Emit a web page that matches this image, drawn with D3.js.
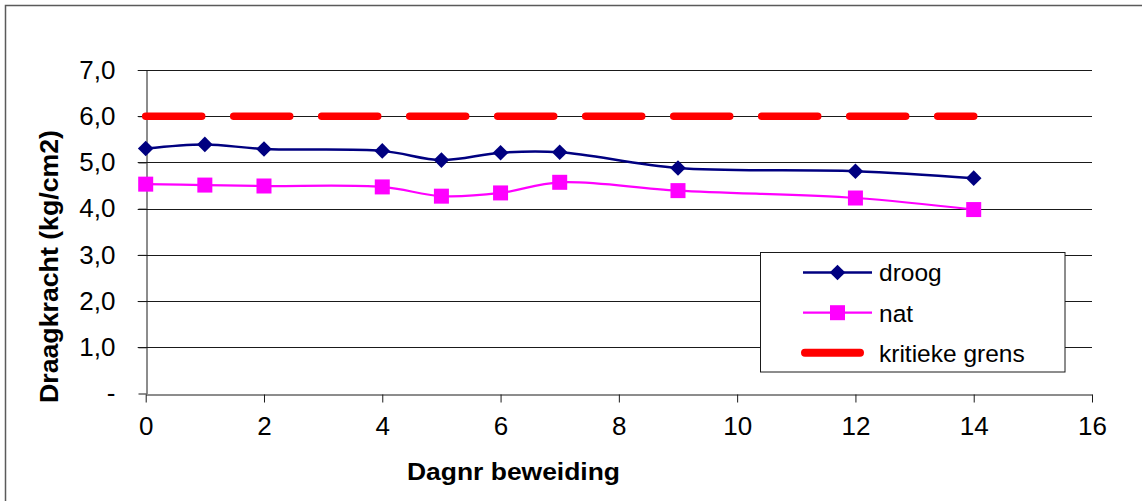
<!DOCTYPE html>
<html>
<head>
<meta charset="utf-8">
<script src="https://cdn.jsdelivr.net/npm/d3@7/dist/d3.min.js"></script>
<style>
  html, body { margin: 0; padding: 0; background: #fff; }
  svg { display: block; font-family: "Liberation Sans", Arial, sans-serif; }
</style>
</head>
<body>
<svg id="chart" width="1142" height="501"></svg>
<script>
// Draagkracht per dag van beweiding
const days = [0, 1, 2, 4, 5, 6, 7, 9, 12, 14];
const droog = [5.30, 5.39, 5.29, 5.25, 5.05, 5.21, 5.22, 4.88, 4.81, 4.66];
const nat = [4.53, 4.51, 4.49, 4.47, 4.27, 4.34, 4.57, 4.39, 4.23, 3.98];
const grens = [6.0, 6.0, 6.0, 6.0, 6.0, 6.0, 6.0, 6.0, 6.0, 6.0];
const seriesNames = ["droog", "nat", "kritieke grens"];
const yTicks = [0, 1, 2, 3, 4, 5, 6, 7];
const yTickLabels = ["-", "1,0", "2,0", "3,0", "4,0", "5,0", "6,0", "7,0"];
const xTicks = [0, 2, 4, 6, 8, 10, 12, 14, 16];
const xTitle = "Dagnr beweiding";
const yTitle = "Draagkracht (kg/cm2)";

const svg = d3.select("#chart");

const x = d3.scaleLinear().domain([0, 16]).range([145.7, 1092]);
const y = d3.scaleLinear().domain([0, 7]).range([393.5, 70]);

// outer chart frame
svg.append("rect")
  .attr("x", 5.5).attr("y", 5.5)
  .attr("width", 1150).attr("height", 520)
  .attr("fill", "#fff")
  .attr("stroke", "#5a5a5a").attr("stroke-width", 1.5);

// horizontal gridlines
svg.append("g").selectAll("line")
  .data(yTicks.slice(1))
  .join("line")
  .attr("x1", x(0) - 8).attr("x2", x(16))
  .attr("y1", d => Math.round(y(d)) + 0.5).attr("y2", d => Math.round(y(d)) + 0.5)
  .attr("stroke", "#1a1a1a").attr("stroke-width", 1);

// y axis
const yAxis = d3.axisLeft(y)
  .tickValues(yTicks)
  .tickFormat((d, i) => yTickLabels[i])
  .tickSizeInner(8).tickSizeOuter(0).tickPadding(23);
const gy = svg.append("g")
  .attr("transform", `translate(${Math.round(x(0)) + 0.5},0)`)
  .call(yAxis);
gy.select(".domain").attr("stroke", "#1a1a1a");
gy.selectAll(".tick line").attr("stroke", "#1a1a1a");
gy.selectAll(".tick text")
  .attr("fill", "#000")
  .style("font-size", "26px");

// x axis
const xAxis = d3.axisBottom(x)
  .tickValues(xTicks)
  .tickFormat(d3.format("d"))
  .tickSizeInner(8).tickSizeOuter(0).tickPadding(14);
const gx = svg.append("g")
  .attr("transform", `translate(0,${Math.round(y(0)) + 0.5})`)
  .call(xAxis);
gx.select(".domain").attr("stroke", "#1a1a1a");
gx.selectAll(".tick line").attr("stroke", "#1a1a1a");
gx.selectAll(".tick text")
  .attr("fill", "#000")
  .style("font-size", "26px");

// critical limit line
const straight = d3.line().x((d, i) => x(days[i])).y(d => y(d));
svg.append("path")
  .datum(grens)
  .attr("d", straight)
  .attr("fill", "none")
  .attr("stroke", "#ff0000")
  .attr("stroke-width", 7.5)
  .attr("stroke-linecap", "round")
  .attr("stroke-dasharray", "56,32");

// smoothed series lines
const smooth = d3.line()
  .x((d, i) => x(days[i])).y(d => y(d))
  .curve(d3.curveCatmullRom.alpha(0.5));

svg.append("path").datum(nat).attr("d", smooth)
  .attr("fill", "none").attr("stroke", "#ff00ff").attr("stroke-width", 2.2);
svg.append("path").datum(droog).attr("d", smooth)
  .attr("fill", "none").attr("stroke", "#000080").attr("stroke-width", 2.5);

const diamond = (cx, cy, r) => `M${cx},${cy - r}L${cx + r},${cy}L${cx},${cy + r}L${cx - r},${cy}Z`;

// markers
svg.append("g").selectAll("path")
  .data(droog).join("path")
  .attr("d", (d, i) => diamond(x(days[i]), y(d), 7.8))
  .attr("fill", "#000080");

svg.append("g").selectAll("rect")
  .data(nat).join("rect")
  .attr("x", (d, i) => x(days[i]) - 7.5).attr("y", d => y(d) - 7.5)
  .attr("width", 15).attr("height", 15)
  .attr("fill", "#ff00ff");

// axis titles
svg.append("text")
  .attr("x", 407).attr("y", 480)
  .attr("textLength", 213).attr("lengthAdjust", "spacingAndGlyphs")
  .style("font-size", "24px").style("font-weight", "bold")
  .text(xTitle);

svg.append("text")
  .attr("transform", "translate(58,403) rotate(-90)")
  .attr("textLength", 273).attr("lengthAdjust", "spacingAndGlyphs")
  .style("font-size", "25px").style("font-weight", "bold")
  .text(yTitle);

// legend
const lg = svg.append("g");
lg.append("rect")
  .attr("x", 760.5).attr("y", 252.5).attr("width", 304.5).attr("height", 119.5)
  .attr("fill", "#fff").attr("stroke", "#1a1a1a").attr("stroke-width", 1);

const rowsY = [272.5, 312.7, 352.7];
// droog
lg.append("line").attr("x1", 803).attr("x2", 872).attr("y1", rowsY[0]).attr("y2", rowsY[0])
  .attr("stroke", "#000080").attr("stroke-width", 2.5);
lg.append("path").attr("d", diamond(837.5, rowsY[0], 7.8)).attr("fill", "#000080");
// nat
lg.append("line").attr("x1", 803).attr("x2", 872).attr("y1", rowsY[1]).attr("y2", rowsY[1])
  .attr("stroke", "#ff00ff").attr("stroke-width", 2.2);
lg.append("rect").attr("x", 837.5 - 7.5).attr("y", rowsY[1] - 7.5).attr("width", 15).attr("height", 15)
  .attr("fill", "#ff00ff");
// kritieke grens
lg.append("line").attr("x1", 805).attr("x2", 860).attr("y1", rowsY[2]).attr("y2", rowsY[2])
  .attr("stroke", "#ff0000").attr("stroke-width", 8).attr("stroke-linecap", "round");

lg.selectAll("text.lbl")
  .data(seriesNames).join("text")
  .attr("class", "lbl")
  .attr("x", 879).attr("y", (d, i) => rowsY[i] + 8.8)
  .style("font-size", "24.5px")
  .text(d => d);
</script>
</body>
</html>
